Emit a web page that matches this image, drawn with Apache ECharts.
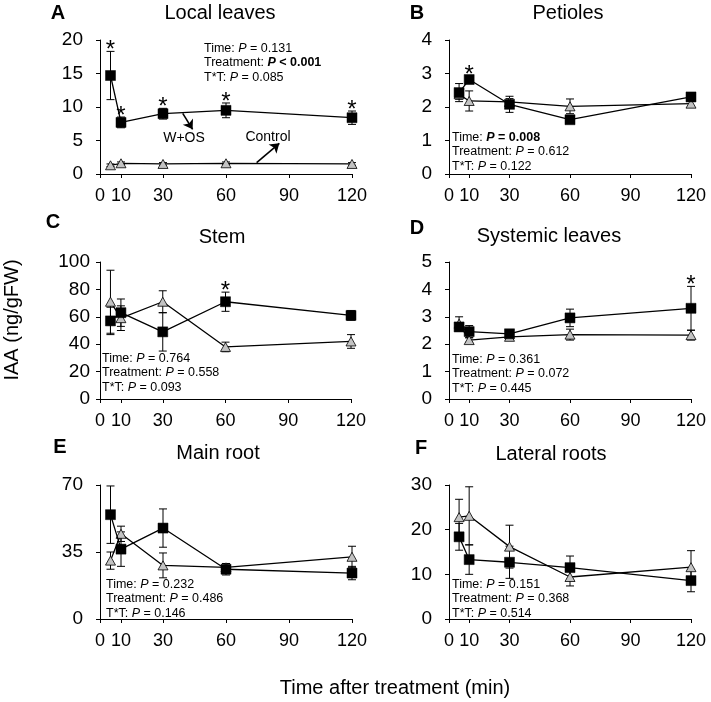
<!DOCTYPE html>
<html><head><meta charset="utf-8">
<script src="https://cdn.jsdelivr.net/npm/echarts@6/dist/echarts.min.js"></script>
<style>html,body{margin:0;padding:0;background:#fff}#c{width:711px;height:702px}</style>
</head><body><div id="c"></div>
<script>
// ---------- data ----------
const times = [5, 10, 30, 60, 120];
const xTickLabels = [0, 10, 30, 60, 90, 120];
const panelLetters = ['A', 'B', 'C', 'D', 'E', 'F'];
const panelTitles = ['Local leaves', 'Petioles', 'Stem', 'Systemic leaves', 'Main root', 'Lateral roots'];

const yTicksA = [0, 5, 10, 15, 20];
const wosA = [14.7, 7.7, 9.0, 9.5, 8.4];
const wosErrA = [3.6, 0.8, 0.8, 1.1, 1.0];
const ctlA = [1.3, 1.6, 1.5, 1.6, 1.5];
const ctlErrA = [0.2, 0.2, 0.2, 0.2, 0.2];
const sigA = [1, 1, 1, 1, 1];
const statsA = [['Time', '= 0.131', false], ['Treatment', '< 0.001', true], ['T*T', '= 0.085', false]];

const yTicksB = [0, 1, 2, 3, 4];
const wosB = [2.43, 2.82, 2.08, 1.62, 2.3];
const wosErrB = [0.27, 0.1, 0.24, 0.08, 0.12];
const ctlB = [2.38, 2.18, 2.15, 2.02, 2.1];
const ctlErrB = [0.15, 0.3, 0.1, 0.22, 0.08];
const sigB = [0, 1, 0, 0, 0];
const statsB = [['Time', '= 0.008', true], ['Treatment', '= 0.612', false], ['T*T', '= 0.122', false]];

const yTicksC = [0, 20, 40, 60, 80, 100];
const wosC = [57, 63, 49, 71, 61];
const wosErrC = [10, 10, 14, 7, 3.5];
const ctlC = [71, 59, 71, 38, 42];
const ctlErrC = [23, 9, 8, 3.5, 5];
const sigC = [0, 0, 0, 1, 0];
const statsC = [['Time', '= 0.764', false], ['Treatment', '= 0.558', false], ['T*T', '= 0.093', false]];

const yTicksD = [0, 1, 2, 3, 4, 5];
const wosD = [2.63, 2.46, 2.38, 2.96, 3.31];
const wosErrD = [0.15, 0.22, 0.12, 0.32, 0.8];
const ctlD = [2.75, 2.15, 2.27, 2.35, 2.33];
const ctlErrD = [0.25, 0.08, 0.08, 0.2, 0.18];
const sigD = [0, 0, 0, 0, 1];
const statsD = [['Time', '= 0.361', false], ['Treatment', '= 0.072', false], ['T*T', '= 0.445', false]];

const yTicksE = [0, 35, 70];
const wosE = [54.5, 36.5, 47.5, 26, 24];
const wosErrE = [15, 9, 10, 3, 3.5];
const ctlE = [30.5, 44.5, 28, 27, 32.5];
const ctlErrE = [4.5, 4, 6.5, 2, 5.5];
const sigE = [0, 0, 0, 0, 0];
const statsE = [['Time', '= 0.232', false], ['Treatment', '= 0.486', false], ['T*T', '= 0.146', false]];

const yTicksF = [0, 10, 20, 30];
const wosF = [18.4, 13.3, 12.7, 11.5, 8.6];
const wosErrF = [3, 3.3, 3.6, 2.6, 2.5];
const ctlF = [22.8, 23.1, 16.2, 9.4, 11.6];
const ctlErrF = [4, 6.5, 4.8, 2, 3.7];
const sigF = [0, 0, 0, 0, 0];
const statsF = [['Time', '= 0.151', false], ['Treatment', '= 0.368', false], ['T*T', '= 0.514', false]];

// ---------- layout ----------
const FONT = '"Liberation Sans", Arial, Helvetica, sans-serif';
const panels = [
  {ticks: yTicksA, wos: wosA, wosErr: wosErrA, ctl: ctlA, ctlErr: ctlErrA, sig: sigA, stats: statsA},
  {ticks: yTicksB, wos: wosB, wosErr: wosErrB, ctl: ctlB, ctlErr: ctlErrB, sig: sigB, stats: statsB},
  {ticks: yTicksC, wos: wosC, wosErr: wosErrC, ctl: ctlC, ctlErr: ctlErrC, sig: sigC, stats: statsC},
  {ticks: yTicksD, wos: wosD, wosErr: wosErrD, ctl: ctlD, ctlErr: ctlErrD, sig: sigD, stats: statsD},
  {ticks: yTicksE, wos: wosE, wosErr: wosErrE, ctl: ctlE, ctlErr: ctlErrE, sig: sigE, stats: statsE},
  {ticks: yTicksF, wos: wosF, wosErr: wosErrF, ctl: ctlF, ctlErr: ctlErrF, sig: sigF, stats: statsF}
];
const gridPos = [
  {left: 100, top: 40, width: 252, height: 134},
  {left: 449, top: 40, width: 242, height: 134},
  {left: 100, top: 262, width: 251, height: 137},
  {left: 449, top: 262, width: 242, height: 137},
  {left: 100, top: 485, width: 252, height: 134},
  {left: 449, top: 485, width: 242, height: 134}
];
const yLabelMargin = [17, 17, 10, 17, 17, 17];
const letterPos = [[58, 13], [417, 13], [53, 222], [417, 228], [60, 447], [421, 448]];
const titlePos = [[220, 13], [568, 13], [222, 237], [549, 236], [218, 453], [551, 454]];
const statsPos = [[204, 41], [452, 130], [102, 351], [452, 352], [106, 577], [452, 577]];

function errRender(params, api) {
  const x = api.value(0), m = api.value(1), e = api.value(2);
  const t = api.coord([x, m + e]), b = api.coord([x, m - e]);
  const w = 4;
  const st = {stroke: '#000', lineWidth: 1};
  return {type: 'group', children: [
    {type: 'line', shape: {x1: t[0], y1: t[1], x2: b[0], y2: b[1]}, style: st},
    {type: 'line', shape: {x1: t[0] - w, y1: t[1], x2: t[0] + w, y2: t[1]}, style: st},
    {type: 'line', shape: {x1: b[0] - w, y1: b[1], x2: b[0] + w, y2: b[1]}, style: st}
  ]};
}
function starRender(params, api) {
  const p = api.coord([api.value(0), api.value(1)]);
  return {type: 'text', x: p[0], y: p[1] - 1, style: {
    text: '*', fontSize: 24, fontFamily: FONT, fill: '#000',
    align: 'center', verticalAlign: 'middle', textAlign: 'center', textVerticalAlign: 'middle'}};
}

const grid = [], xAxis = [], yAxis = [], series = [], graphic = [];
panels.forEach((p, i) => {
  grid.push(Object.assign({containLabel: false}, gridPos[i]));
  xAxis.push({
    type: 'value', gridIndex: i, min: 0, max: 120,
    axisLine: {show: true, onZero: false, lineStyle: {color: '#000', width: 1}},
    axisTick: {show: true, length: 4, customValues: xTickLabels, lineStyle: {color: '#000'}},
    axisLabel: {customValues: xTickLabels, fontSize: 18, color: '#000', margin: 13, fontFamily: FONT},
    splitLine: {show: false}
  });
  const tk = p.ticks;
  yAxis.push({
    type: 'value', gridIndex: i, min: tk[0], max: tk[tk.length - 1], interval: tk[1] - tk[0],
    axisLine: {show: true, onZero: false, lineStyle: {color: '#000', width: 1}},
    axisTick: {show: true, length: 4, lineStyle: {color: '#000'}},
    axisLabel: {fontSize: 19, color: '#000', margin: yLabelMargin[i], fontFamily: FONT},
    splitLine: {show: false}
  });
  series.push({
    type: 'custom', xAxisIndex: i, yAxisIndex: i, z: 1, silent: true,
    renderItem: errRender, encode: {x: 0, y: 1},
    data: times.map((t, k) => [t, p.ctl[k], p.ctlErr[k]])
  });
  series.push({
    type: 'custom', xAxisIndex: i, yAxisIndex: i, z: 1, silent: true,
    renderItem: errRender, encode: {x: 0, y: 1},
    data: times.map((t, k) => [t, p.wos[k], p.wosErr[k]])
  });
  series.push({
    name: 'Control', type: 'line', xAxisIndex: i, yAxisIndex: i, z: 2,
    data: times.map((t, k) => [t, p.ctl[k]]),
    symbol: 'triangle', symbolSize: [10, 9], showAllSymbol: true,
    lineStyle: {color: '#000', width: 1.3},
    itemStyle: {color: '#c3c3c3', borderColor: '#000', borderWidth: 0.8},
    emphasis: {disabled: true}
  });
  const wosSeries = {
    name: 'W+OS', type: 'line', xAxisIndex: i, yAxisIndex: i, z: 3,
    data: times.map((t, k) => [t, p.wos[k]]),
    symbol: 'rect', symbolSize: 10, showAllSymbol: true,
    lineStyle: {color: '#000', width: 1.3},
    itemStyle: {color: '#000', borderColor: '#000', borderWidth: 0.5},
    emphasis: {disabled: true}
  };
  if (i === 0) {
    wosSeries.markLine = {
      silent: true, symbol: ['none', 'arrow'], symbolSize: 9, animation: false,
      lineStyle: {color: '#000', width: 1.6, type: 'solid'}, label: {show: false},
      data: [
        [{coord: [39.4, 9.06]}, {coord: [44.1, 6.67]}],
        [{coord: [74.6, 1.69]}, {coord: [85.4, 4.58]}]
      ]
    };
  }
  series.push(wosSeries);
  series.push({
    type: 'custom', xAxisIndex: i, yAxisIndex: i, z: 4, silent: true,
    renderItem: starRender, encode: {x: 0, y: 1},
    data: times.map((t, k) => [t, p.wos[k] + p.wosErr[k], p.sig[k]]).filter(d => d[2])
  });

  graphic.push({type: 'text', x: letterPos[i][0], y: letterPos[i][1], style: {
    text: panelLetters[i], font: 'bold 20px ' + FONT, fill: '#000', align: 'center', verticalAlign: 'middle'}});
  graphic.push({type: 'text', x: titlePos[i][0], y: titlePos[i][1], style: {
    text: panelTitles[i], font: '20px ' + FONT, fill: '#000', align: 'center', verticalAlign: 'middle'}});
  const txt = p.stats.map(s => s[2]
    ? `${s[0]}: {bi|P}{b| ${s[1]}}`
    : `${s[0]}: {i|P} ${s[1]}`).join('\n');
  graphic.push({type: 'text', x: statsPos[i][0], y: statsPos[i][1], style: {
    text: txt, fontSize: 12.5, fontFamily: FONT, fill: '#000', lineHeight: 14.5,
    align: 'left', verticalAlign: 'top',
    rich: {
      i: {fontStyle: 'italic', fontSize: 12.5, fontFamily: FONT, lineHeight: 14.5},
      bi: {fontStyle: 'italic', fontWeight: 'bold', fontSize: 12.5, fontFamily: FONT, lineHeight: 14.5},
      b: {fontWeight: 'bold', fontSize: 12.5, fontFamily: FONT, lineHeight: 14.5}
    }}});
});

graphic.push({type: 'text', x: 184, y: 138, style: {text: 'W+OS', font: '14px ' + FONT, fill: '#000', align: 'center', verticalAlign: 'middle'}});
graphic.push({type: 'text', x: 268, y: 137, style: {text: 'Control', font: '14px ' + FONT, fill: '#000', align: 'center', verticalAlign: 'middle'}});
graphic.push({type: 'text', x: 12, y: 320, rotation: Math.PI / 2, style: {text: 'IAA (ng/gFW)', font: '20px ' + FONT, fill: '#000', align: 'center', verticalAlign: 'middle'}});
graphic.push({type: 'text', x: 395, y: 688, style: {text: 'Time after treatment (min)', font: '20px ' + FONT, fill: '#000', align: 'center', verticalAlign: 'middle'}});

const chart = echarts.init(document.getElementById('c'), null, {renderer: 'canvas'});
chart.setOption({
  animation: false,
  backgroundColor: '#fff',
  textStyle: {fontFamily: FONT},
  grid, xAxis, yAxis, series, graphic
});
</script>
</body></html>
